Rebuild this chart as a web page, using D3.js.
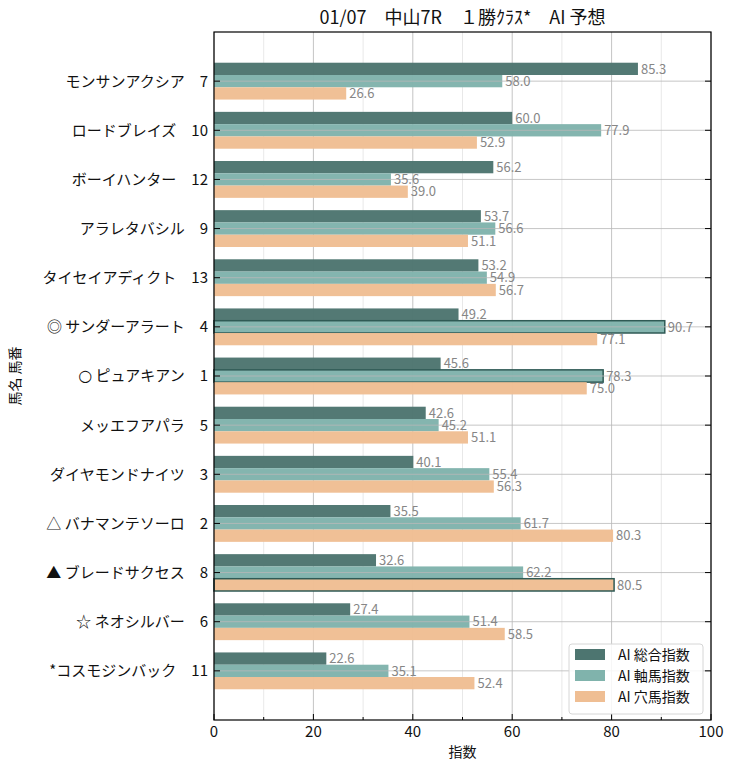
<!DOCTYPE html>
<html><head><meta charset="utf-8">
<script src="https://cdn.jsdelivr.net/npm/d3@7"></script>
<style>
body{margin:0;background:#fff;}
text{font-family:"Noto Sans CJK JP","Noto Sans",sans-serif;}
</style></head>
<body><svg id="c" width="734" height="770"></svg>
<script>
const horseNames = ["モンサンアクシア","ロードブレイズ","ボーイハンター","アラレタバシル","タイセイアディクト","◎ サンダーアラート","○ ピュアキアン","メッエフアパラ","ダイヤモンドナイツ","△ バナマンテソーロ","▲ ブレードサクセス","☆ ネオシルバー","*コスモジンバック"];
const horseNumbers = [7,10,12,9,13,4,1,5,3,2,8,6,11];
const totalIndex = [85.3,60.0,56.2,53.7,53.2,49.2,45.6,42.6,40.1,35.5,32.6,27.4,22.6];
const axisIndex  = [58.0,77.9,35.6,56.6,54.9,90.7,78.3,45.2,55.4,61.7,62.2,51.4,35.1];
const holeIndex  = [26.6,52.9,39.0,51.1,56.7,77.1,75.0,51.1,56.3,80.3,80.5,58.5,52.4];
const axisHighlight = [false,false,false,false,false,true,true,false,false,false,false,false,false];
const holeHighlight = [false,false,false,false,false,false,false,false,false,false,true,false,false];
const seriesNames = ["AI 総合指数","AI 軸馬指数","AI 穴馬指数"];
const colors = ["#4d7570","#80b3ac","#efbe93"];
const xTicks = [0,20,40,60,80,100];
const xMinor = [10,30,50,70,90];
const title = "01/07　中山7R　１勝ｸﾗｽ*　AI 予想";

const svg = d3.select("#c");
const L=214, R=711, T=32, B=720;
const x = d3.scaleLinear().domain([0,100]).range([L,R]);
const n = horseNames.length;
const y = d3.scaleLinear().domain([-1,n]).range([T,B]);
const band = y(1)-y(0);
const bh = band*0.25;

// grid
const g = svg.append("g");
g.selectAll(".mg").data(xMinor).enter().append("line")
  .attr("x1",d=>x(d)).attr("x2",d=>x(d)).attr("y1",T).attr("y2",B)
  .attr("stroke","#e2e2e2").attr("stroke-width",0.8);
g.selectAll(".Mg").data(xTicks).enter().append("line")
  .attr("x1",d=>x(d)).attr("x2",d=>x(d)).attr("y1",T).attr("y2",B)
  .attr("stroke","#c4c4c4").attr("stroke-width",1);

const series = [totalIndex, axisIndex, holeIndex];
const highlights = [horseNames.map(()=>false), axisHighlight, holeHighlight];
series.forEach((vals,si)=>{
  const gs = svg.append("g");
  gs.selectAll("rect").data(vals).enter().append("rect")
    .attr("x",x(0))
    .attr("y",(d,i)=>y(i)-1.5*bh+si*bh)
    .attr("width",d=>x(d)-x(0))
    .attr("height",bh)
    .attr("fill",colors[si])
    .attr("fill-opacity",0.97)
    .attr("stroke",(d,i)=>highlights[si][i]?"#2f5a55":"none")
    .attr("stroke-width",1.5);
});
// horizontal grid on top (semi transparent)
svg.append("g").selectAll("line").data(d3.range(n)).enter().append("line")
  .attr("x1",L).attr("x2",R).attr("y1",d=>y(d)).attr("y2",d=>y(d))
  .attr("stroke","#b8b8b8").attr("stroke-opacity",0.8).attr("stroke-width",1);

series.forEach((vals,si)=>{
  svg.append("g").selectAll("text").data(vals).enter().append("text")
    .attr("x",d=>x(d)+3)
    .attr("y",(d,i)=>y(i)-bh+si*bh)
    .attr("dy","0.36em")
    .attr("font-size",13)
    .attr("fill","#868686")
    .text(d=>d.toFixed(1));
});

// frame
svg.append("rect").attr("x",L).attr("y",T).attr("width",R-L).attr("height",B-T)
  .attr("fill","none").attr("stroke","#000").attr("stroke-width",1.2);

// y ticks (inward both sides)
const yt = svg.append("g");
d3.range(n).forEach(i=>{
  yt.append("line").attr("x1",L).attr("x2",L+6).attr("y1",y(i)).attr("y2",y(i)).attr("stroke","#000");
  yt.append("line").attr("x1",R-6).attr("x2",R).attr("y1",y(i)).attr("y2",y(i)).attr("stroke","#000");
  const t = yt.append("text").attr("x",L-6).attr("y",y(i)).attr("dy","0.36em")
    .attr("text-anchor","end").attr("font-size",15).attr("fill","#111");
  const name = horseNames[i];
  if (name.startsWith("○")) {
    t.append("tspan").attr("font-family","DejaVu Sans").attr("font-size",16).text("○");
    t.append("tspan").text(name.slice(1)+"　"+horseNumbers[i]);
  } else {
    t.text(name+"　"+horseNumbers[i]);
  }
});
// x ticks
const xa = svg.append("g");
xTicks.forEach(v=>{
  xa.append("line").attr("x1",x(v)).attr("x2",x(v)).attr("y1",B).attr("y2",B-6).attr("stroke","#000");
  xa.append("text").attr("x",x(v)).attr("y",B+17).attr("text-anchor","middle")
    .attr("font-size",15).attr("fill","#111").text(v);
});
xMinor.forEach(v=>{
  xa.append("line").attr("x1",x(v)).attr("x2",x(v)).attr("y1",B).attr("y2",B-3).attr("stroke","#000");
});

svg.append("text").attr("x",(L+R)/2).attr("y",24).attr("text-anchor","middle")
  .attr("font-size",18).attr("fill","#111").text(title);
svg.append("text").attr("x",(L+R)/2).attr("y",757).attr("text-anchor","middle")
  .attr("font-size",14).attr("fill","#111").text("指数");
svg.append("text").attr("transform",`translate(20,${(T+B)/2}) rotate(-90)`)
  .attr("text-anchor","middle").attr("font-size",14).attr("fill","#111").text("馬名 馬番");

// legend
const lg = svg.append("g");
lg.append("rect").attr("x",569).attr("y",644).attr("width",134).attr("height",70).attr("rx",3)
  .attr("fill","#fff").attr("fill-opacity",0.85).attr("stroke","#d6d6d6");
seriesNames.forEach((s,i)=>{
  lg.append("rect").attr("x",575).attr("y",649+i*21).attr("width",30).attr("height",11).attr("fill",colors[i]);
  lg.append("text").attr("x",618).attr("y",655+i*21).attr("dy","0.36em").attr("font-size",14).attr("fill","#111").text(s);
});
</script></body></html>
